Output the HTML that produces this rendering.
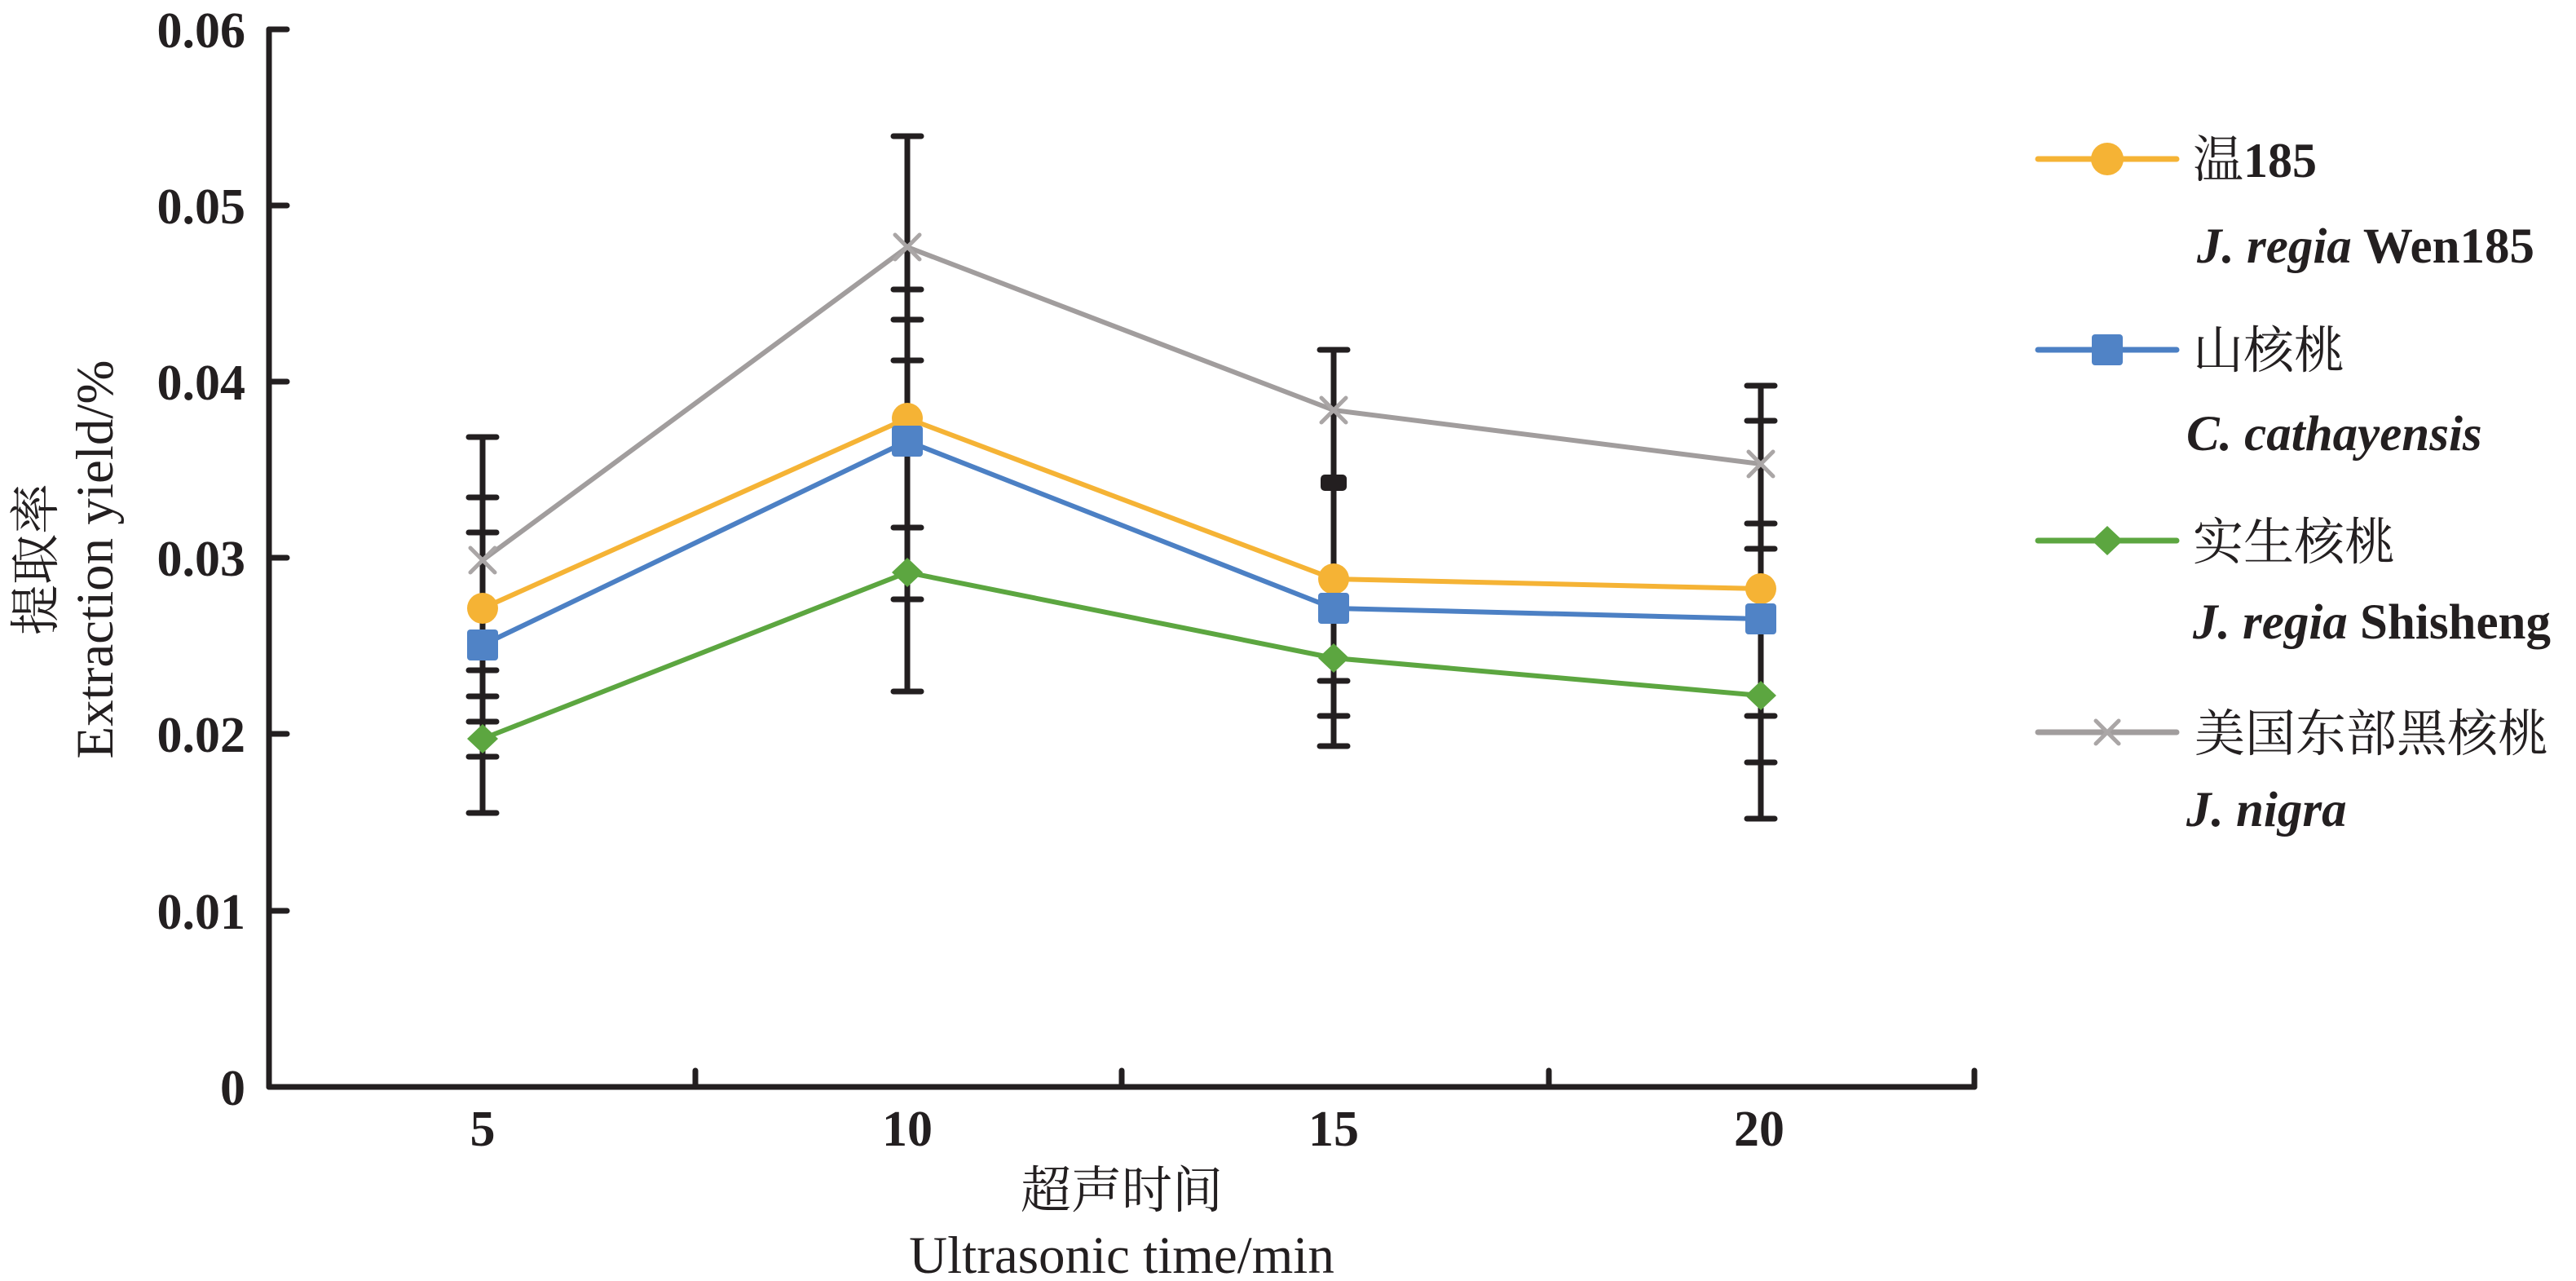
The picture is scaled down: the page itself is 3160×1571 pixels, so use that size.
<!DOCTYPE html>
<html>
<head>
<meta charset="utf-8">
<style>
  html, body { margin: 0; padding: 0; background: #ffffff; }
  svg { display: block; }
  .tick { font-family: "Liberation Serif", "Noto Serif CJK SC", serif; font-weight: bold; font-size: 62px; fill: #231f20; }
  .title { font-family: "Liberation Serif", "Noto Serif CJK SC", serif; font-size: 65px; fill: #231f20; }
  .cjk { font-family: "Liberation Serif", "Noto Serif CJK SC", "Noto Sans CJK SC", serif; font-size: 62px; fill: #231f20; }
  .leg { font-family: "Liberation Serif", "Noto Serif CJK SC", serif; font-size: 61px; fill: #231f20; font-weight: bold; }
</style>
</head>
<body>
<svg width="3160" height="1571" viewBox="0 0 3160 1571" xmlns="http://www.w3.org/2000/svg">
  <rect x="0" y="0" width="3160" height="1571" fill="#ffffff"/>

  <!-- Axes -->
  <g stroke="#231f20" stroke-width="7" stroke-linecap="round" fill="none">
    <line x1="330" y1="36" x2="330" y2="1333"/>
    <line x1="330" y1="1333" x2="2422" y2="1333"/>
    <!-- y ticks -->
    <line x1="330" y1="36" x2="352" y2="36"/>
    <line x1="330" y1="252" x2="352" y2="252"/>
    <line x1="330" y1="468" x2="352" y2="468"/>
    <line x1="330" y1="684" x2="352" y2="684"/>
    <line x1="330" y1="900" x2="352" y2="900"/>
    <line x1="330" y1="1117" x2="352" y2="1117"/>
    <!-- x ticks -->
    <line x1="853" y1="1333" x2="853" y2="1313"/>
    <line x1="1376" y1="1333" x2="1376" y2="1313"/>
    <line x1="1900" y1="1333" x2="1900" y2="1313"/>
    <line x1="2422" y1="1333" x2="2422" y2="1313"/>
  </g>

  <!-- Y tick labels -->
  <g class="tick" text-anchor="end">
    <text x="301" y="58">0.06</text>
    <text x="301" y="274">0.05</text>
    <text x="301" y="490">0.04</text>
    <text x="301" y="706">0.03</text>
    <text x="301" y="922">0.02</text>
    <text x="301" y="1139">0.01</text>
    <text x="301" y="1355">0</text>
  </g>

  <!-- X tick labels -->
  <g class="tick" text-anchor="middle">
    <text x="592" y="1405">5</text>
    <text x="1113" y="1405">10</text>
    <text x="1636" y="1405">15</text>
    <text x="2158" y="1405">20</text>
  </g>

  <!-- Axis titles -->
  <text class="cjk" x="1376" y="1481" text-anchor="middle">超声时间</text>
  <text class="title" x="1376" y="1561" text-anchor="middle">Ultrasonic time/min</text>
  <text class="cjk" transform="translate(65,686) rotate(-90)" text-anchor="middle">提取率</text>
  <text class="title" transform="translate(138,686) rotate(-90)" text-anchor="middle">Extraction yield/%</text>

  <!-- Series lines -->
  <g fill="none" stroke-width="6" stroke-linejoin="round" stroke-linecap="round">
    <polyline stroke="#a19d9d" points="592,687 1113,303 1636,503 2160,569"/>
    <polyline stroke="#f5b335" points="592,746 1113,513 1636,710 2160,722"/>
    <polyline stroke="#4c80c4" points="592,791 1113,541 1636,746 2160,759"/>
    <polyline stroke="#5ca640" points="592,906 1113,702 1636,807 2160,853"/>
  </g>

  <!-- Error bars -->
  <g stroke="#231f20" stroke-width="7" stroke-linecap="round" fill="none">
    <!-- x=5 -->
    <line x1="592" y1="536" x2="592" y2="997"/>
    <line x1="575" y1="536" x2="609" y2="536"/>
    <line x1="575" y1="610" x2="609" y2="610"/>
    <line x1="575" y1="653" x2="609" y2="653"/>
    <line x1="575" y1="822" x2="609" y2="822"/>
    <line x1="575" y1="854" x2="609" y2="854"/>
    <line x1="575" y1="885" x2="609" y2="885"/>
    <line x1="575" y1="928" x2="609" y2="928"/>
    <line x1="575" y1="997" x2="609" y2="997"/>
    <!-- x=10 -->
    <line x1="1113" y1="167" x2="1113" y2="848"/>
    <line x1="1096" y1="167" x2="1130" y2="167"/>
    <line x1="1096" y1="355" x2="1130" y2="355"/>
    <line x1="1096" y1="392" x2="1130" y2="392"/>
    <line x1="1096" y1="442" x2="1130" y2="442"/>
    <line x1="1096" y1="647" x2="1130" y2="647"/>
    <line x1="1096" y1="735" x2="1130" y2="735"/>
    <line x1="1096" y1="848" x2="1130" y2="848"/>
    <!-- x=15 -->
    <line x1="1636" y1="429" x2="1636" y2="915"/>
    <line x1="1619" y1="429" x2="1653" y2="429"/>
    <line x1="1619" y1="835" x2="1653" y2="835"/>
    <line x1="1619" y1="878" x2="1653" y2="878"/>
    <line x1="1619" y1="915" x2="1653" y2="915"/>
    <!-- x=20 -->
    <line x1="2160" y1="473" x2="2160" y2="1004"/>
    <line x1="2143" y1="473" x2="2177" y2="473"/>
    <line x1="2143" y1="516" x2="2177" y2="516"/>
    <line x1="2143" y1="642" x2="2177" y2="642"/>
    <line x1="2143" y1="673" x2="2177" y2="673"/>
    <line x1="2143" y1="878" x2="2177" y2="878"/>
    <line x1="2143" y1="935" x2="2177" y2="935"/>
    <line x1="2143" y1="1004" x2="2177" y2="1004"/>
  </g>
  <rect x="1620" y="582" width="32" height="20" rx="5" fill="#231f20"/>

  <!-- Markers: gray X -->
  <g stroke="#aaa6a6" stroke-width="5" stroke-linecap="round">
    <path d="M577,672 L607,702 M607,672 L577,702"/>
    <path d="M1098,288 L1128,318 M1128,288 L1098,318"/>
    <path d="M1621,488 L1651,518 M1651,488 L1621,518"/>
    <path d="M2145,554 L2175,584 M2175,554 L2145,584"/>
  </g>
  <!-- yellow circles -->
  <g fill="#f5b335">
    <circle cx="592" cy="746" r="19"/>
    <circle cx="1113" cy="513" r="19"/>
    <circle cx="1636" cy="710" r="19"/>
    <circle cx="2160" cy="722" r="19"/>
  </g>
  <!-- blue squares -->
  <g fill="#5083c6">
    <rect x="573" y="772" width="38" height="38" rx="4"/>
    <rect x="1094" y="522" width="38" height="38" rx="4"/>
    <rect x="1617" y="727" width="38" height="38" rx="4"/>
    <rect x="2141" y="740" width="38" height="38" rx="4"/>
  </g>
  <!-- green diamonds -->
  <g fill="#5ca640">
    <polygon points="592,888 611,906 592,924 573,906"/>
    <polygon points="1113,684 1132,702 1113,720 1094,702"/>
    <polygon points="1636,789 1655,807 1636,825 1617,807"/>
    <polygon points="2160,835 2179,853 2160,871 2141,853"/>
  </g>

  <!-- Legend -->
  <g stroke-width="7" stroke-linecap="round">
    <line x1="2500" y1="195" x2="2670" y2="195" stroke="#f5b335"/>
    <line x1="2500" y1="429" x2="2670" y2="429" stroke="#4c80c4"/>
    <line x1="2500" y1="663" x2="2670" y2="663" stroke="#5ca640"/>
    <line x1="2500" y1="898" x2="2670" y2="898" stroke="#a19d9d"/>
  </g>
  <circle cx="2585" cy="195" r="20" fill="#f5b335"/>
  <rect x="2566" y="410" width="38" height="38" rx="4" fill="#5083c6"/>
  <polygon points="2585,645 2604,663 2585,681 2566,663" fill="#5ca640"/>
  <path d="M2571,884 L2599,912 M2599,884 L2571,912" stroke="#aaa6a6" stroke-width="5" stroke-linecap="round"/>

  <text class="cjk" x="2690" y="217">温<tspan font-family="Liberation Serif, serif" font-weight="bold" font-size="60">185</tspan></text>
  <text class="leg" x="2695" y="322"><tspan font-style="italic">J. regia</tspan> Wen185</text>

  <text class="cjk" x="2690" y="451">山核桃</text>
  <text class="leg" x="2682" y="552" font-style="italic">C. cathayensis</text>

  <text class="cjk" x="2690" y="686">实生核桃</text>
  <text class="leg" x="2690" y="783"><tspan font-style="italic">J. regia</tspan> Shisheng</text>

  <text class="cjk" x="2692" y="921">美国东部黑核桃</text>
  <text class="leg" x="2682" y="1013" font-style="italic">J. nigra</text>
</svg>
</body>
</html>
